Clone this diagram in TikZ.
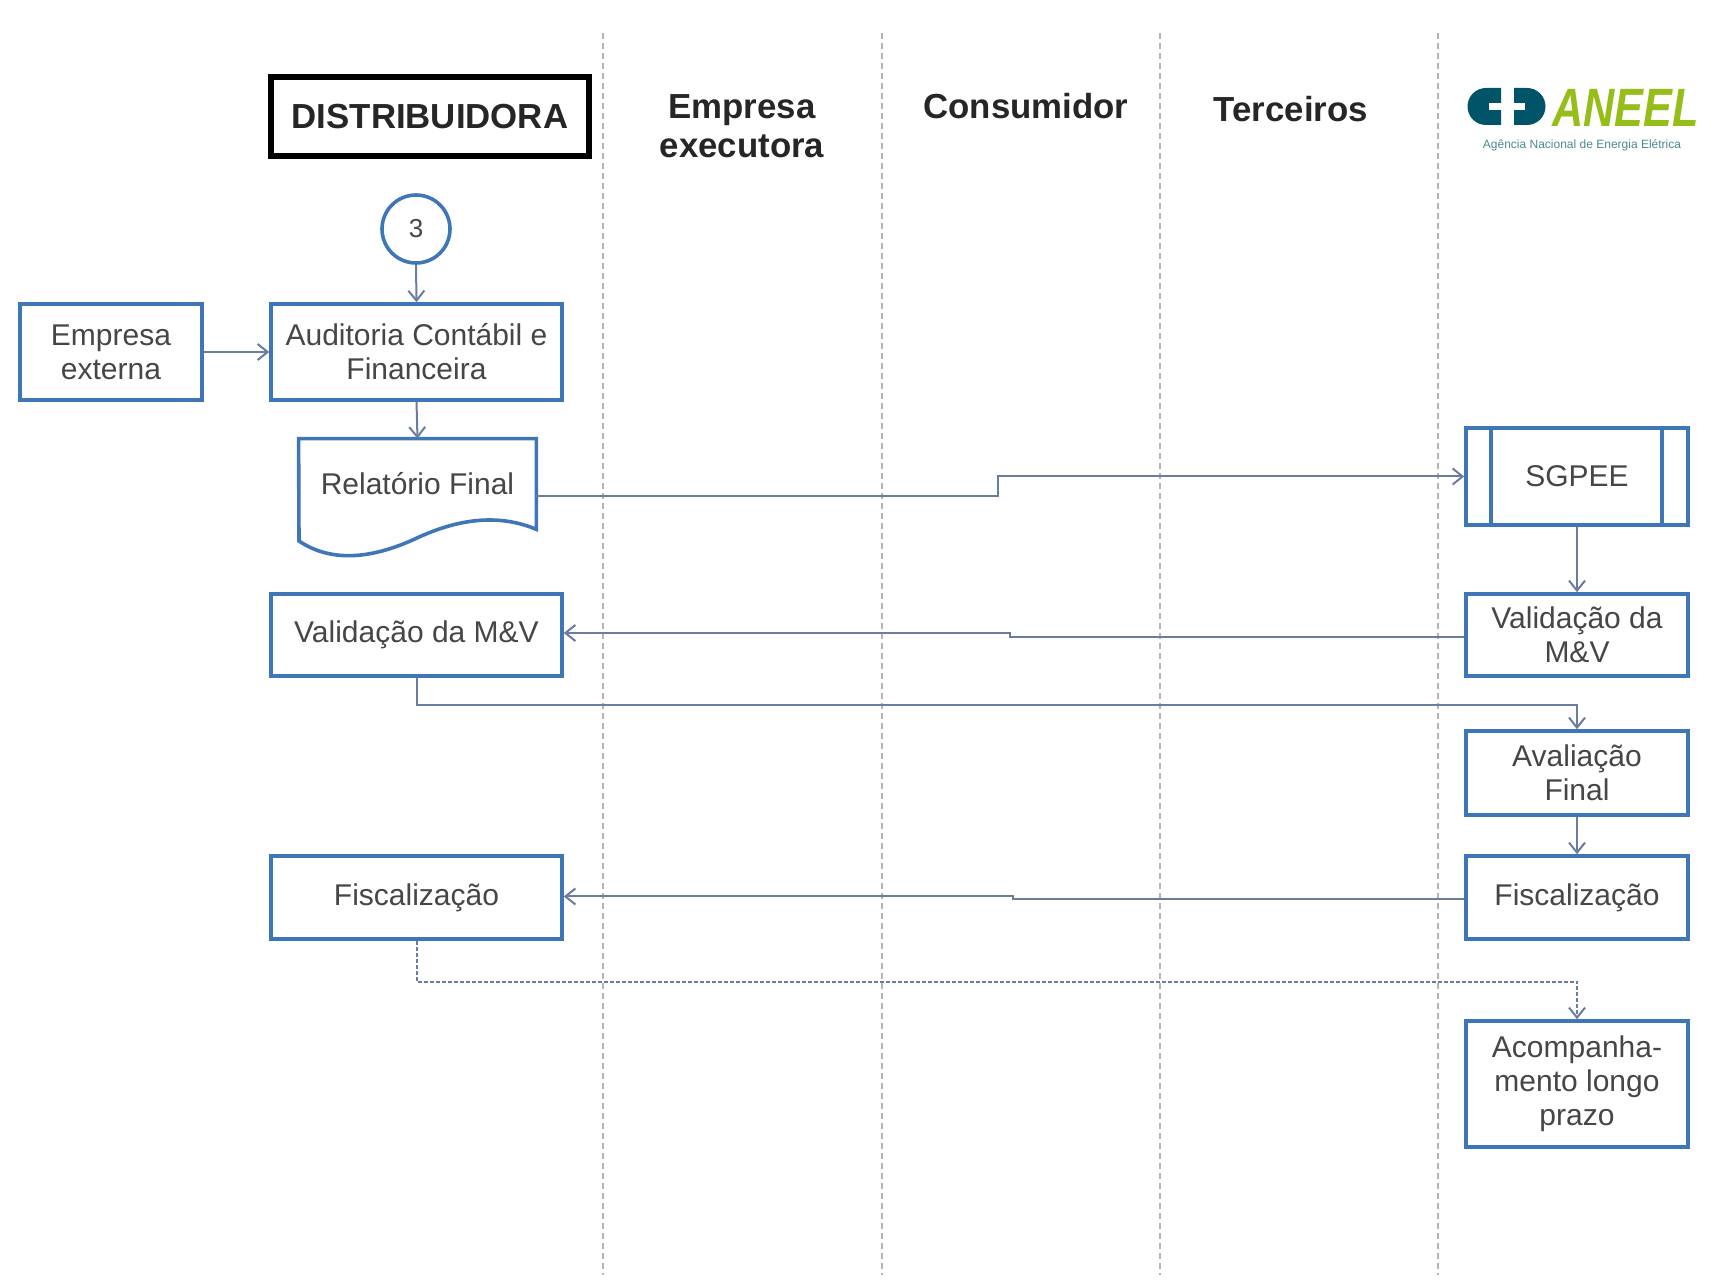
\documentclass[tikz,border=0pt]{standalone}
\usepackage{fontspec}
\setmainfont{Liberation Sans}
\usetikzlibrary{arrows.meta}
\definecolor{box edge}{RGB}{62,118,184}
\definecolor{flow line}{RGB}{105,125,160}
\definecolor{lane line}{RGB}{180,180,180}
\definecolor{box text}{RGB}{70,70,70}
\definecolor{aneel teal}{RGB}{0,84,104}
\definecolor{aneel green}{RGB}{150,190,25}
\tikzset{process/.style={draw=box edge, line width=1.8pt, fill=white, text=box text,
        align=center, inner sep=0pt, font=\fontsize{15}{17}\selectfont},
    header/.style={text=black!85, align=center, font=\bfseries\fontsize{17.4}{19.5}\selectfont},
    flow/.style={draw=flow line, line width=1pt, -{Straight Barb[length=5pt,width=8pt]}},
    lane/.style={draw=lane line, line width=0.8pt, dash pattern=on 3pt off 2pt}}

\begin{document}
\begin{tikzpicture}[x=0.5pt, y=-0.5pt]
    \useasboundingbox (0,0) rectangle (1715,1288);
    % swimlanes
    \foreach \lx in {603,882,1160,1438}
        \draw[lane] (\lx,33) -- (\lx,1275);
    % headers
    \node[header, draw=black, line width=3pt, minimum width=159pt, minimum height=39.5pt] (distr) at (430,116.5) {DISTRIBUIDORA};
    \node[header] (exec) at (742,126) {Empresa\\executora};
    \node[header] (cons) at (1026,106) {Consumidor};
    \node[header] (terc) at (1291,109) {Terceiros};
    % logo
    \fill[aneel teal] (1501,88) -- (1486,88) arc[start angle=270, end angle=90, radius=18.5] -- (1501,125) -- cycle;
    \fill[aneel teal] (1514,88) -- (1527,88) arc[start angle=270, end angle=450, radius=18.5] -- (1514,125) -- cycle;
    \fill[white] (1489,103) rectangle (1502,110);
    \fill[white] (1513,103) rectangle (1525,110);
    \node[anchor=west, inner sep=0pt, text=aneel green, font=\bfseries\itshape\fontsize{27}{27}\selectfont] (aneel) at (1552,108) {\scalebox{0.8}[1]{ANEEL}};
    \node[anchor=north, inner sep=0pt, text=aneel teal!70, font=\fontsize{6}{6}\selectfont] (aneelsub) at (1582,139) {Agência Nacional de Energia Elétrica};
    % distribuidora
    \node[process, circle, minimum size=34pt, font=\fontsize{13}{13}\selectfont] (conn3) at (416,229) {3};
    \node[process, minimum width=91pt, minimum height=48pt] (ext) at (111,352) {Empresa\\externa};
    \node[process, minimum width=145.5pt, minimum height=48pt] (aud) at (416.5,352) {Auditoria Contábil e\\Financeira};
    \node[text=box text, font=\fontsize{15}{17}\selectfont, minimum width=118.5pt, minimum height=45pt, inner sep=0pt] (rel) at (417.5,484) {Relatório Final};
    \draw[box edge, line width=1.8pt] (rel.south east) .. controls (500,514) and (460,518) .. (417,538)
        .. controls (370,560) and (330,562) .. (299,541) -- (rel.north west) -- (rel.north east) -- cycle;
    \node[process, minimum width=145.5pt, minimum height=41pt] (vall) at (416.5,635) {Validação da M\&V};
    \node[process, minimum width=145.5pt, minimum height=41.5pt] (fiscl) at (416.5,897.5) {Fiscalização};
    % aneel
    \node[process, minimum width=111pt, minimum height=48.5pt] (sgpee) at (1577,476.5) {SGPEE};
    \draw[box edge, line width=1.8pt] ([xshift=13.5pt]sgpee.north west) -- ([xshift=13.5pt]sgpee.south west);
    \draw[box edge, line width=1.8pt] ([xshift=-14pt]sgpee.north east) -- ([xshift=-14pt]sgpee.south east);
    \node[process, minimum width=111pt, minimum height=41pt] (valr) at (1577,635) {Validação da\\M\&V};
    \node[process, minimum width=111pt, minimum height=42pt] (aval) at (1577,773) {Avaliação\\Final};
    \node[process, minimum width=111pt, minimum height=41.5pt] (fiscr) at (1577,897.5) {Fiscalização};
    \node[process, minimum width=111pt, minimum height=63pt] (acomp) at (1577,1084) {Acompanha-\\mento longo\\prazo};
    % flows
    \draw[flow] (conn3.south) -- (aud.north);
    \draw[flow] (ext) -- (aud);
    \draw[flow] (aud.south) -- (rel.north);
    \draw[flow] ([yshift=-6pt]rel.east) -- ++(462,0) |- (sgpee.west);
    \draw[flow] (sgpee.south) -- (valr.north);
    \draw[flow] ([yshift=-1pt]valr.west) -- ++(-454,0) |- ([yshift=1pt]vall.east);
    \draw[flow] (vall.south) -- ++(0,27) -| (aval.north);
    \draw[flow] (aval.south) -- (fiscr.north);
    \draw[flow] ([yshift=-1pt]fiscr.west) -- ++(-451,0) |- ([yshift=0.5pt]fiscl.east);
    \draw[flow, dash pattern=on 2pt off 1pt] (fiscl.south) -- ++(0,41) -| (acomp.north);
\end{tikzpicture}
\end{document}
